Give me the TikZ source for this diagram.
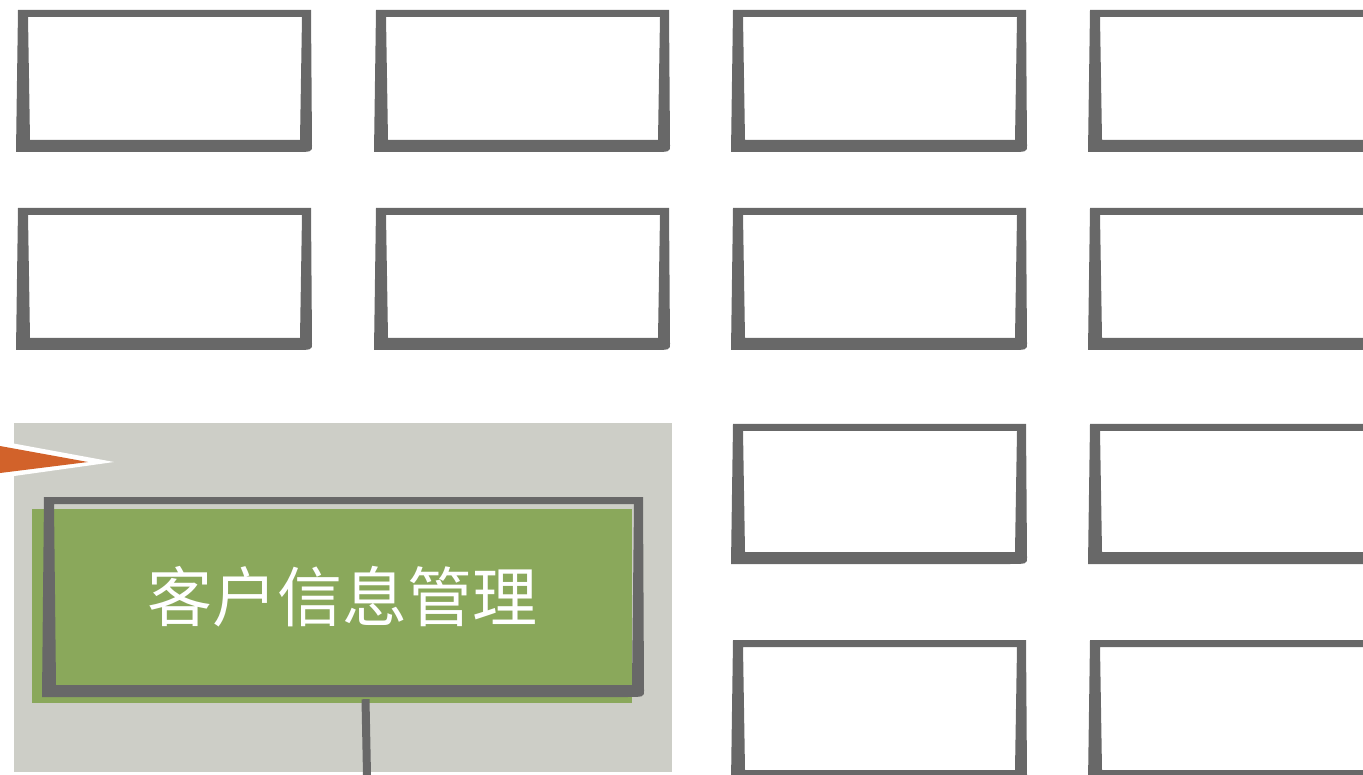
\documentclass[tikz,border=0pt]{standalone}
\usepackage{fontspec}
\newfontfamily\cjk{Noto Sans CJK SC}
\usetikzlibrary{positioning,calc}
\definecolor{framegray}{HTML}{686868}
\definecolor{panelgray}{HTML}{CDCEC7}
\definecolor{leafgreen}{HTML}{8AA85B}
\definecolor{flagorange}{HTML}{D2622A}
% hand drawn frame: x, y (top left), width, height
\newcommand{\sketchframe}[4]{%
  \fill[framegray,even odd rule] (#1+2,#2) -- (#1+#3-1,#2) -- (#1+#3,#2+#4-6)
      .. controls (#1+#3,#2+#4) .. (#1+#3-20,#2+#4) -- (#1,#2+#4) -- cycle
    (#1+12,#2+7) -- (#1+#3-10,#2+7) -- (#1+#3-12,#2+#4-12) -- (#1+14,#2+#4-12) -- cycle;}
\begin{document}
\begin{tikzpicture}[x=1pt,y=-1pt,
        label node/.style={text=white,font=\cjk\fontsize{65}{72}\selectfont,
          minimum width=601pt,minimum height=200pt,inner sep=0pt}]
    \useasboundingbox (0,0) rectangle (1363,775);
    \clip (0,0) rectangle (1363,775);

    % empty boxes
    \foreach \x in {16,374,731,1088}
      \foreach \y in {10,208}
        {\sketchframe{\x}{\y}{296}{142}}
    \foreach \x in {731,1088}
      \foreach \y/\h in {424/140,640/142}
        {\sketchframe{\x}{\y}{296}{\h}}

    % highlighted panel
    \fill[panelgray] (14,423) rectangle (672,772);
    \fill[white] (0,441) -- (114,462) -- (0,478) -- cycle;
    \fill[flagorange] (0,446) -- (88,462) -- (0,473) -- cycle;
    \fill[leafgreen] (32,509) rectangle (632,703);
    \sketchframe{42}{497}{602}{200}
    \node[label node] (crm) at (342.5,597) {客户信息管理};

    \coordinate (crmend) at (367,775);
    \draw[framegray,line width=8pt] ([xshift=23pt,yshift=-2pt]crm.south) -- (crmend);
\end{tikzpicture}
\end{document}
